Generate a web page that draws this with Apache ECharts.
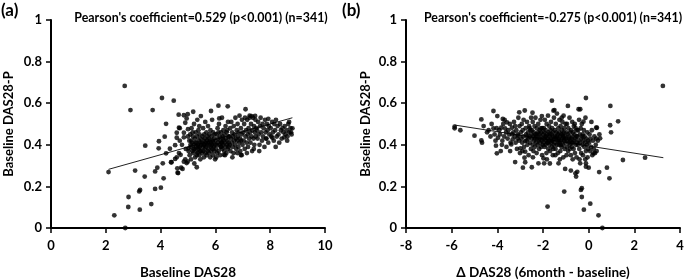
<!DOCTYPE html>
<html><head><meta charset="utf-8">
<script src="https://cdn.jsdelivr.net/npm/echarts@6/dist/echarts.min.js"></script>
<style>html,body{margin:0;padding:0;background:#fff}#c{width:685px;height:280px}</style>
</head><body><div id="c"></div>
<script>
// ---- tick labels ----
const yTicks = [0, 0.2, 0.4, 0.6, 0.8, 1];
const xTicksA = [0, 2, 4, 6, 8, 10];
const xTicksB = [-8, -6, -4, -2, 0, 2, 4];
const labels = {
  panelA: '(a)', panelB: '(b)',
  titleA: "Pearson's coefficient=0.529 (p<0.001) (n=341)",
  titleB: "Pearson's coefficient=-0.275 (p<0.001) (n=341)",
  xNameA: 'Baseline DAS28', xNameB: 'Δ DAS28 (6month - baseline)', yName: 'Baseline DAS28-P'
};
// ---- trend line end points ----
const trendA = [[2.10, 0.282], [8.81, 0.530]];
const trendB = [[-5.87, 0.495], [3.27, 0.338]];
// ---- panel (a): Baseline DAS28 vs Baseline DAS28-P ----
const pointsA = [
[2.69,0.683],[2.90,0.567],[3.71,0.567],[4.05,0.625],[4.48,0.612],[4.66,0.545],[4.85,0.542],[4.20,0.501],[4.67,0.482],[4.59,0.458],[4.15,0.439],[3.94,0.417],[3.44,0.396],[3.93,0.383],[4.20,0.359],[4.34,0.381],[4.53,0.398],[4.38,0.316],[4.08,0.311],[3.88,0.290],[3.80,0.272],[3.07,0.276],[2.10,0.269],[3.42,0.247],[4.11,0.239],[3.25,0.183],[3.22,0.176],[3.80,0.188],[4.01,0.194],[2.83,0.149],[2.82,0.101],[3.24,0.088],[3.66,0.115],[2.31,0.061],[2.71,0.0],[4.62,0.266],[4.75,0.29],[5.32,0.292],[4.99,0.319],[6.96,0.35],[6.31,0.352],[6.11,0.588],[6.45,0.585],[7.10,0.571],[5.84,0.5625],[5.19,0.559],[5.47,0.538],[4.99,0.547],[6.14,0.527],[7.32,0.538],[7.45,0.539],[7.24,0.53],[7.93,0.525],[8.81,0.479],[8.76,0.46],[8.51,0.436],[8.08,0.434],[7.85,0.43],[6.93,0.351],
[4.95,0.527],[4.90,0.506],[4.70,0.48],[5.0,0.475],[4.85,0.458],[4.59,0.434],[4.85,0.436],[5.0,0.44],[4.73,0.352],[4.53,0.332],[4.40,0.316],[4.59,0.34],[4.67,0.36],[4.85,0.319],[4.95,0.312],[4.61,0.287],[4.80,0.284],[4.64,0.264],[5.02,0.383],[4.9,0.33],[4.78,0.40],[4.92,0.38],[4.70,0.42],
[5.02,0.37],[5.05,0.42],[5.06,0.35],[5.08,0.45],[5.10,0.39],[5.11,0.33],[5.13,0.48],[5.15,0.41],[5.16,0.37],[5.18,0.44],[5.19,0.36],[5.21,0.40],[5.22,0.50],[5.24,0.38],[5.25,0.43],[5.26,0.34],[5.28,0.46],[5.29,0.39],[5.30,0.41],[5.31,0.37],[5.33,0.44],[5.34,0.52],[5.35,0.36],[5.36,0.40],[5.38,0.47],[5.39,0.38],[5.40,0.42],[5.41,0.35],[5.42,0.45],[5.43,0.39],[5.44,0.41],[5.45,0.33],[5.46,0.43],[5.47,0.37],[5.48,0.40],[5.12,0.42],[5.20,0.38],[5.27,0.41],[5.37,0.39],[5.44,0.37],[5.09,0.40],[5.17,0.46],[5.32,0.35],[5.41,0.49],[5.23,0.31],
[5.51,0.41],[5.52,0.36],[5.53,0.44],[5.54,0.39],[5.55,0.48],[5.56,0.37],[5.57,0.42],[5.58,0.34],[5.59,0.45],[5.60,0.40],[5.61,0.38],[5.62,0.43],[5.63,0.51],[5.64,0.36],[5.65,0.41],[5.66,0.39],[5.67,0.46],[5.68,0.35],[5.69,0.42],[5.70,0.40],[5.71,0.44],[5.72,0.37],[5.73,0.49],[5.74,0.41],[5.75,0.38],[5.76,0.43],[5.77,0.36],[5.78,0.45],[5.79,0.40],[5.80,0.42],[5.81,0.34],[5.82,0.47],[5.83,0.39],[5.84,0.41],[5.85,0.37],[5.86,0.44],[5.87,0.40],[5.88,0.52],[5.89,0.38],[5.90,0.42],[5.91,0.35],[5.92,0.46],[5.93,0.41],[5.94,0.39],[5.95,0.43],[5.96,0.37],[5.97,0.45],[5.98,0.40],[5.99,0.33],[5.58,0.40],
[6.01,0.42],[6.02,0.38],[6.04,0.45],[6.05,0.40],[6.06,0.36],[6.08,0.48],[6.09,0.41],[6.10,0.43],[6.12,0.37],[6.13,0.50],[6.14,0.40],[6.16,0.44],[6.17,0.35],[6.18,0.42],[6.20,0.46],[6.21,0.39],[6.22,0.41],[6.24,0.53],[6.25,0.38],[6.26,0.44],[6.28,0.40],[6.29,0.47],[6.30,0.42],[6.32,0.37],[6.33,0.45],[6.34,0.41],[6.36,0.39],[6.37,0.49],[6.38,0.43],[6.40,0.36],[6.41,0.46],[6.42,0.40],[6.44,0.42],[6.45,0.38],[6.46,0.51],[6.47,0.44],[6.48,0.41],[6.49,0.39],[6.03,0.34],[6.11,0.46],[6.19,0.39],[6.27,0.43],[6.35,0.35],[6.43,0.47],[6.23,0.41],
[6.51,0.44],[6.52,0.40],[6.54,0.48],[6.55,0.37],[6.57,0.43],[6.58,0.51],[6.60,0.41],[6.61,0.46],[6.63,0.39],[6.64,0.44],[6.66,0.36],[6.67,0.49],[6.69,0.42],[6.70,0.45],[6.72,0.40],[6.73,0.53],[6.75,0.43],[6.76,0.38],[6.78,0.47],[6.79,0.42],[6.81,0.50],[6.82,0.44],[6.84,0.39],[6.85,0.46],[6.87,0.41],[6.88,0.54],[6.90,0.43],[6.91,0.37],[6.93,0.48],[6.94,0.42],[6.96,0.45],[6.97,0.52],[6.99,0.40],[6.62,0.34],[6.80,0.36],
[7.01,0.46],[7.03,0.42],[7.05,0.50],[7.07,0.38],[7.08,0.53],[7.10,0.44],[7.12,0.47],[7.14,0.41],[7.16,0.52],[7.18,0.45],[7.19,0.39],[7.21,0.48],[7.23,0.43],[7.25,0.54],[7.26,0.46],[7.28,0.41],[7.30,0.50],[7.32,0.44],[7.34,0.37],[7.35,0.47],[7.37,0.53],[7.39,0.43],[7.41,0.49],[7.42,0.40],[7.44,0.46],[7.46,0.52],[7.47,0.44],[7.49,0.48],[7.15,0.36],[7.40,0.38],
[7.52,0.47],[7.54,0.43],[7.56,0.51],[7.58,0.45],[7.61,0.40],[7.63,0.49],[7.65,0.53],[7.67,0.46],[7.70,0.42],[7.72,0.50],[7.74,0.44],[7.76,0.48],[7.79,0.39],[7.81,0.52],[7.83,0.46],[7.86,0.43],[7.88,0.50],[7.90,0.47],[7.93,0.41],[7.95,0.49],[7.97,0.45],[7.60,0.37],
[8.02,0.48],[8.04,0.44],[8.07,0.51],[8.10,0.46],[8.13,0.42],[8.15,0.50],[8.18,0.47],[8.21,0.52],[8.24,0.44],[8.27,0.49],[8.30,0.45],[8.33,0.41],[8.36,0.50],[8.39,0.47],[8.42,0.43],[8.45,0.48],[8.48,0.46],[8.20,0.39],
[8.53,0.49],[8.56,0.45],[8.60,0.47],[8.63,0.44],[8.66,0.50],[8.70,0.46],[8.74,0.48],[8.78,0.45],[8.62,0.42],[8.69,0.51]
];
// ---- panel (b): change in DAS28 vs Baseline DAS28-P ----
const pointsB = [
[3.25,0.683],[-0.12,0.625],[0.95,0.587],[1.29,0.513],[0.94,0.494],[0.98,0.46],[-0.44,0.571],[-0.91,0.587],[-1.61,0.612],[1.50,0.327],[2.47,0.338],[-1.07,0.175],[-0.30,0.191],[-0.34,0.183],[-0.30,0.149],[0.07,0.117],[-0.21,0.088],[0.43,0.061],[0.60,0.0],[0.91,0.239],[0.80,0.29],[0.46,0.269],[0.0,0.29],[-0.55,0.247],[-0.5,0.27],[-0.78,0.276],[-1.03,0.284],[0.21,0.359],[0.33,0.482],[0.47,0.45],[0.50,0.431],[0.33,0.43],[-0.15,0.33],[-0.12,0.311],[-1.80,0.103],[-2.88,0.29],[-3.22,0.317],[-4.02,0.359],[-4.67,0.41],[-1.95,0.311],[-1.7,0.31],[-1.32,0.311],[-0.37,0.311],[-0.58,0.263],[-0.12,0.295],[-5.87,0.487],[-5.87,0.479],[-5.62,0.47],[-5.0,0.444],[-4.70,0.522],[-4.6,0.49],[-4.70,0.421],[-4.17,0.5625],[-4.0,0.538],[-3.76,0.524],[-4.06,0.396],[-3.8,0.40],[-2.78,0.316],[-2.49,0.292],[-3.04,0.556],[-2.8,0.565],[-2.46,0.554],[-1.5,0.567],[-2.05,0.538],[-1.54,0.564],[-1.1,0.54],[-0.37,0.571],[0.36,0.482],[-0.23,0.511],
[-4.45,0.46],[-4.38,0.47],[-4.30,0.44],[-4.25,0.50],[-4.17,0.479],[-4.12,0.45],[-4.08,0.42],[-4.03,0.48],
[-3.97,0.434],[-3.92,0.47],[-3.88,0.45],[-3.83,0.482],[-3.78,0.42],[-3.74,0.50],[-3.70,0.44],[-3.66,0.479],[-3.62,0.46],[-3.58,0.508],[-3.55,0.43],[-3.52,0.47],[-3.60,0.39],[-3.85,0.37],[-3.68,0.52],
[-3.48,0.45],[-3.45,0.50],[-3.42,0.41],[-3.39,0.402],[-3.36,0.482],[-3.33,0.426],[-3.30,0.46],[-3.27,0.51],[-3.24,0.44],[-3.20,0.41],[-3.17,0.47],[-3.14,0.38],[-3.11,0.45],[-3.08,0.53],[-3.07,0.444],[-3.05,0.42],[-3.03,0.49],[-3.01,0.36],[-3.44,0.37],[-3.22,0.49],[-3.12,0.43],[-3.35,0.45],
[-2.99,0.383],[-2.97,0.46],[-2.95,0.43],[-2.93,0.50],[-2.91,0.41],[-2.89,0.47],[-2.87,0.44],[-2.85,0.52],[-2.83,0.39],[-2.81,0.338],[-2.78,0.418],[-2.78,0.367],[-2.76,0.48],[-2.74,0.45],[-2.72,0.42],[-2.70,0.51],[-2.68,0.40],[-2.66,0.46],[-2.64,0.43],[-2.63,0.35],[-2.61,0.49],[-2.59,0.44],[-2.57,0.41],[-2.55,0.47],[-2.53,0.38],[-2.52,0.53],[-2.51,0.45],[-2.90,0.37],[-2.70,0.44],[-2.58,0.48],
[-2.49,0.43],[-2.48,0.47],[-2.46,0.40],[-2.45,0.51],[-2.43,0.44],[-2.42,0.37],[-2.40,0.46],[-2.39,0.42],[-2.37,0.49],[-2.36,0.39],[-2.34,0.45],[-2.33,0.53],[-2.31,0.41],[-2.30,0.44],[-2.28,0.36],[-2.27,0.48],[-2.25,0.43],[-2.24,0.40],[-2.22,0.46],[-2.21,0.50],[-2.20,0.311],[-2.19,0.42],[-2.17,0.38],[-2.16,0.45],[-2.14,0.47],[-2.13,0.41],[-2.11,0.52],[-2.10,0.44],[-2.08,0.39],[-2.07,0.46],[-2.05,0.42],[-2.04,0.35],[-2.03,0.48],[-2.02,0.43],[-2.01,0.40],[-2.35,0.43],[-2.26,0.45],[-2.15,0.43],[-2.09,0.48],[-2.44,0.34],
[-1.99,0.45],[-1.98,0.335],[-1.97,0.41],[-1.96,0.48],[-1.94,0.43],[-1.93,0.39],[-1.92,0.52],[-1.90,0.44],[-1.89,0.40],[-1.88,0.47],[-1.86,0.42],[-1.85,0.36],[-1.84,0.50],[-1.82,0.45],[-1.81,0.41],[-1.80,0.43],[-1.78,0.54],[-1.77,0.38],[-1.76,0.46],[-1.74,0.42],[-1.73,0.49],[-1.72,0.40],[-1.70,0.44],[-1.69,0.37],[-1.68,0.47],[-1.66,0.43],[-1.65,0.51],[-1.64,0.41],[-1.62,0.45],[-1.61,0.39],[-1.60,0.48],[-1.58,0.42],[-1.57,0.35],[-1.56,0.46],[-1.54,0.44],[-1.53,0.40],[-1.52,0.53],[-1.51,0.43],[-1.95,0.46],[-1.87,0.44],[-1.79,0.41],[-1.71,0.45],[-1.63,0.42],[-1.55,0.38],[-1.83,0.33],
[-1.49,0.47],[-1.48,0.41],[-1.47,0.44],[-1.45,0.38],[-1.44,0.50],[-1.43,0.43],[-1.41,0.46],[-1.40,0.40],[-1.39,0.55],[-1.37,0.42],[-1.36,0.45],[-1.35,0.36],[-1.33,0.48],[-1.32,0.43],[-1.31,0.40],[-1.29,0.46],[-1.28,0.52],[-1.27,0.41],[-1.25,0.44],[-1.24,0.37],[-1.23,0.49],[-1.21,0.42],[-1.20,0.45],[-1.19,0.39],[-1.17,0.47],[-1.16,0.43],[-1.15,0.51],[-1.13,0.40],[-1.12,0.44],[-1.11,0.34],[-1.09,0.46],[-1.08,0.42],[-1.07,0.48],[-1.05,0.38],[-1.04,0.44],[-1.03,0.41],[-1.01,0.50],[-1.46,0.35],[-1.38,0.44],[-1.30,0.42],[-1.22,0.40],[-1.14,0.45],[-1.06,0.43],[-1.26,0.33],[-1.18,0.53],
[-0.99,0.43],[-0.98,0.46],[-0.96,0.39],[-0.95,0.50],[-0.93,0.42],[-0.92,0.45],[-0.90,0.37],[-0.89,0.48],[-0.87,0.41],[-0.86,0.44],[-0.84,0.53],[-0.83,0.40],[-0.81,0.46],[-0.80,0.42],[-0.78,0.35],[-0.77,0.47],[-0.75,0.43],[-0.74,0.39],[-0.72,0.51],[-0.71,0.44],[-0.69,0.41],[-0.68,0.46],[-0.66,0.38],[-0.65,0.49],[-0.63,0.42],[-0.62,0.45],[-0.60,0.36],[-0.59,0.43],[-0.57,0.48],[-0.56,0.40],[-0.54,0.44],[-0.53,0.34],[-0.52,0.47],[-0.51,0.41],[-0.97,0.35],[-0.85,0.43],[-0.73,0.41],[-0.61,0.50],[-0.70,0.33],[-0.82,0.38],
[-0.49,0.44],[-0.47,0.40],[-0.46,0.47],[-0.44,0.42],[-0.42,0.52],[-0.41,0.38],[-0.39,0.45],[-0.37,0.41],[-0.35,0.48],[-0.33,0.36],[-0.32,0.43],[-0.30,0.50],[-0.28,0.40],[-0.26,0.45],[-0.25,0.35],[-0.23,0.42],[-0.21,0.47],[-0.19,0.39],[-0.18,0.44],[-0.16,0.41],[-0.14,0.53],[-0.12,0.37],[-0.10,0.43],[-0.08,0.40],[-0.06,0.46],[-0.05,0.34],[-0.03,0.42],[-0.02,0.38],[-0.40,0.33],[-0.27,0.44],
[0.02,0.41],[0.04,0.45],[0.06,0.37],[0.08,0.43],[0.11,0.39],[0.14,0.47],[0.16,0.35],[0.19,0.42],[0.22,0.38],[0.25,0.44],[0.28,0.36],[0.31,0.40],[0.35,0.37],[0.40,0.42],[0.12,0.51]
];

const FONT = 'Lato, "Open Sans", sans-serif';
const txt = {fontFamily: FONT, fontWeight: 'bold', color: '#000', fontSize: 13};
function xAxis(idx, ticks, name) {
  return {
    type: 'value', gridIndex: idx, min: ticks[0], max: ticks[ticks.length-1], interval: ticks[1]-ticks[0],
    name: name, nameLocation: 'middle', nameGap: 38, nameTextStyle: Object.assign({}, txt, {fontSize: 13.5}),
    axisLine: {show: true, onZero: false, lineStyle: {color: '#000', width: 2}},
    axisTick: {show: true, length: 5, lineStyle: {color: '#000', width: 1.5}},
    axisLabel: Object.assign({}, txt, {margin: 11}),
    splitLine: {show: false}
  };
}
function yAxis(idx, name, gap) {
  return {
    type: 'value', gridIndex: idx, min: yTicks[0], max: yTicks[yTicks.length-1], interval: yTicks[1]-yTicks[0],
    name: name, nameLocation: 'middle', nameGap: gap, nameTextStyle: Object.assign({}, txt, {fontSize: 13}),
    axisLine: {show: true, onZero: false, lineStyle: {color: '#000', width: 2}},
    axisTick: {show: true, length: 5, lineStyle: {color: '#000', width: 1.5}},
    axisLabel: Object.assign({}, txt, {margin: 9}),
    splitLine: {show: false}
  };
}
const chart = echarts.init(document.getElementById('c'), null, {renderer: 'canvas'});
chart.setOption({
  backgroundColor: '#fff',
  animation: false,
  grid: [
    {left: 51, right: 360, top: 20, bottom: 52, containLabel: false, outerBoundsMode: 'none'},
    {left: 406, right: 5, top: 20, bottom: 52, containLabel: false, outerBoundsMode: 'none'}
  ],
  xAxis: [xAxis(0, xTicksA, labels.xNameA), xAxis(1, xTicksB, labels.xNameB)],
  yAxis: [yAxis(0, labels.yName, 36), yAxis(1, labels.yName, 34)],
  graphic: [
    {type: 'text', left: 1, top: 2, style: {text: labels.panelA, font: 'bold 17px ' + FONT, fill: '#000'}},
    {type: 'text', left: 342, top: 2, style: {text: labels.panelB, font: 'bold 17px ' + FONT, fill: '#000'}},
    {type: 'text', x: 201, y: 18, style: {text: labels.titleA, font: 'bold 12.4px ' + FONT, fill: '#000', align: 'center', verticalAlign: 'middle'}},
    {type: 'text', x: 553, y: 18, style: {text: labels.titleB, font: 'bold 12.4px ' + FONT, fill: '#000', align: 'center', verticalAlign: 'middle'}}
  ],
  series: [
    {type: 'line', xAxisIndex: 0, yAxisIndex: 0, data: trendA, symbol: 'none', lineStyle: {color: '#222', width: 1}, z: 1},
    {type: 'scatter', xAxisIndex: 0, yAxisIndex: 0, data: pointsA, symbolSize: 4.8, itemStyle: {color: '#000'}, z: 2},
    {type: 'line', xAxisIndex: 1, yAxisIndex: 1, data: trendB, symbol: 'none', lineStyle: {color: '#222', width: 1}, z: 1},
    {type: 'scatter', xAxisIndex: 1, yAxisIndex: 1, data: pointsB, symbolSize: 4.8, itemStyle: {color: '#000'}, z: 2}
  ]
});
</script></body></html>
